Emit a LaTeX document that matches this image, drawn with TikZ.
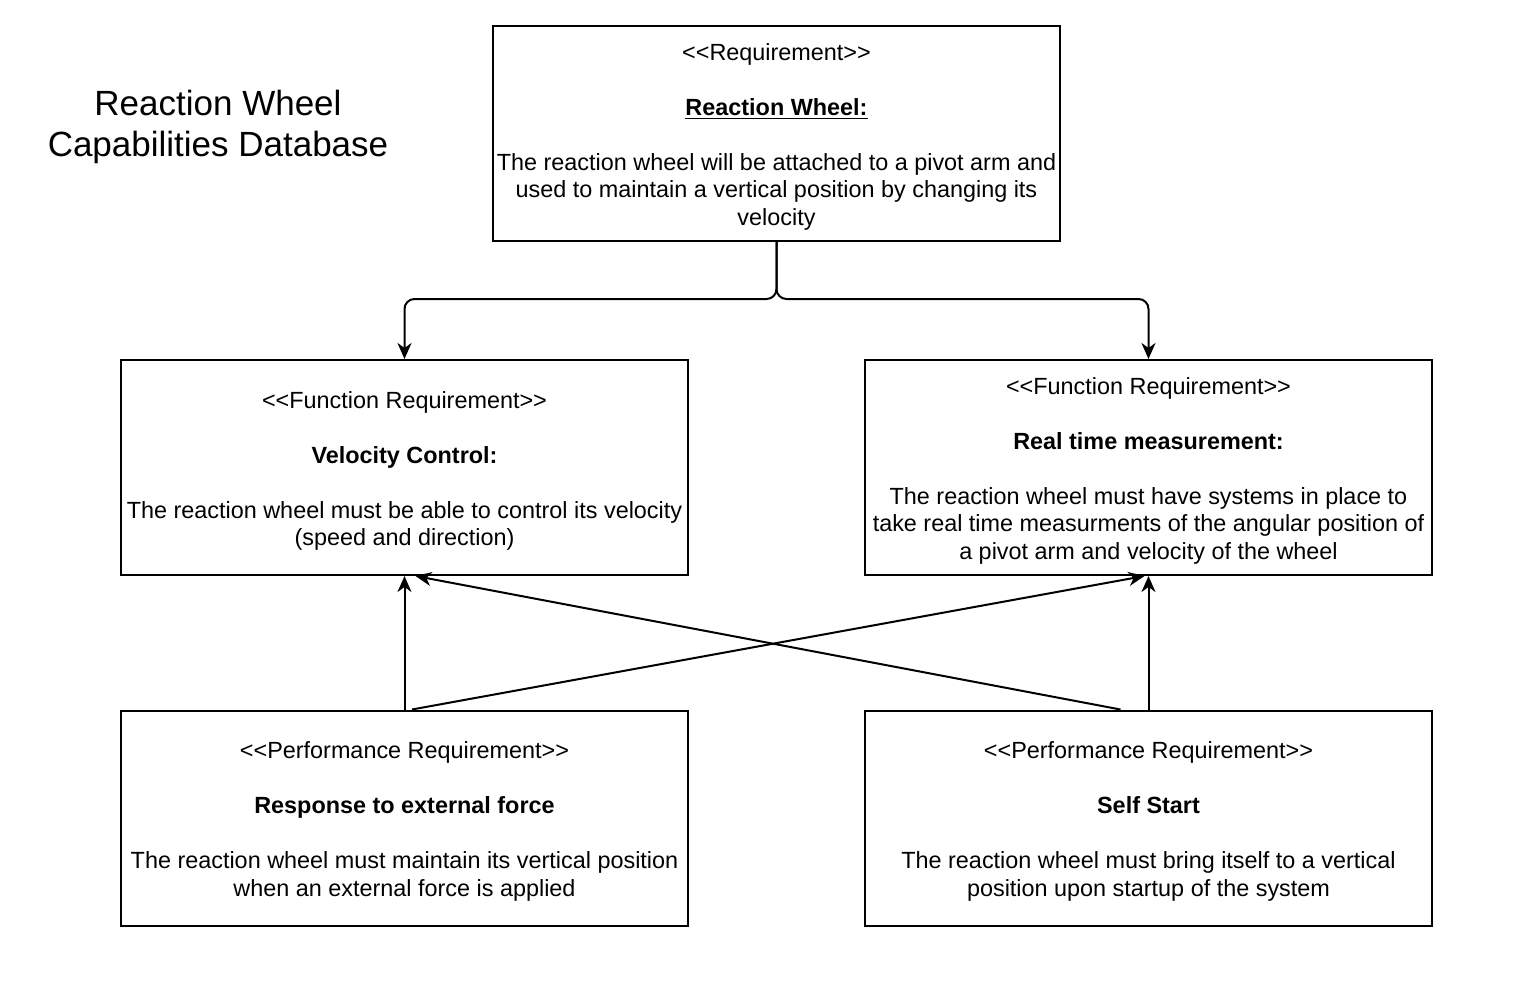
\documentclass[tikz,border=0pt]{standalone}
\usepackage{fontspec}
\newfontfamily\arialfont{Liberation Sans}
\usetikzlibrary{arrows.meta}
\newcommand\topstrut{\rule{0pt}{11.8pt}}
\tikzset{
  reqbox/.style={draw, line width=1pt, minimum width=283.5pt, minimum height=107.5pt,
    inner sep=0pt, align=center, font=\arialfont\fontsize{11.7}{13.75}\selectfont},
  titletext/.style={inner sep=0pt, align=center, font=\arialfont\fontsize{17.5}{20.5}\selectfont},
  flow/.style={line width=1pt, -{Stealth[length=8pt,width=7pt,inset=2.5pt]}},
}
\begin{document}
\begin{tikzpicture}[x=0.5pt,y=-0.5pt]
  \useasboundingbox (0,0) rectangle (1539,1007);

  % Marking the title
  \node (title) at (218,127) [titletext] {Reaction Wheel\\Capabilities Database};%

  % Drawing box Reaction Wheel
  \node (req) at (776.5,133.5) [reqbox] {\topstrut<<Requirement>>\\[13.75pt]
    \underline{\textbf{Reaction Wheel:}}\\[13.75pt]
    The reaction wheel will be attached to a pivot arm and\\
    used to maintain a vertical position by changing its\\
    velocity};%

  % Drawing box Velocity Control
  \node (vel) at (404.5,467.5) [reqbox] {\topstrut<<Function Requirement>>\\[13.75pt]
    \textbf{Velocity Control:}\\[13.75pt]
    The reaction wheel must be able to control its velocity\\
    (speed and direction)};%

  % Drawing box Real time measurement
  \node (meas) at (1148.5,467.5) [reqbox] {\topstrut<<Function Requirement>>\\[13.75pt]
    \textbf{Real time measurement:}\\[13.75pt]
    The reaction wheel must have systems in place to\\
    take real time measurments of the angular position of\\
    a pivot arm and velocity of the wheel};%

  % Drawing box Response to external force
  \node (resp) at (404.5,818) [reqbox] {\topstrut<<Performance Requirement>>\\[13.75pt]
    \textbf{Response to external force}\\[13.75pt]
    The reaction wheel must maintain its vertical position\\
    when an external force is applied};%

  % Drawing box Self Start
  \node (selfst) at (1148.5,818) [reqbox] {\topstrut<<Performance Requirement>>\\[13.75pt]
    \textbf{Self Start}\\[13.75pt]
    The reaction wheel must bring itself to a vertical\\
    position upon startup of the system};%

  % Split point below Reaction Wheel
  \coordinate (split) at (776.5,299);%

  % Drawing arrows req -> vel, req -> meas
  \draw [flow, rounded corners=5pt] (req.south) -- (split) -| (vel.north);%
  \draw [flow, rounded corners=5pt] (req.south) -- (split) -| (meas.north);%

  % Drawing arrows from the performance boxes
  \draw [flow] (resp.north) -- (vel.south);%
  \draw [flow] (selfst.north) -- (meas.south);%
  \draw [flow] ([xshift=3.75pt]resp.north) -- ([xshift=-2pt]meas.south);%
  \draw [flow] ([xshift=-14pt]selfst.north) -- ([xshift=5.5pt]vel.south);%
\end{tikzpicture}
\end{document}
